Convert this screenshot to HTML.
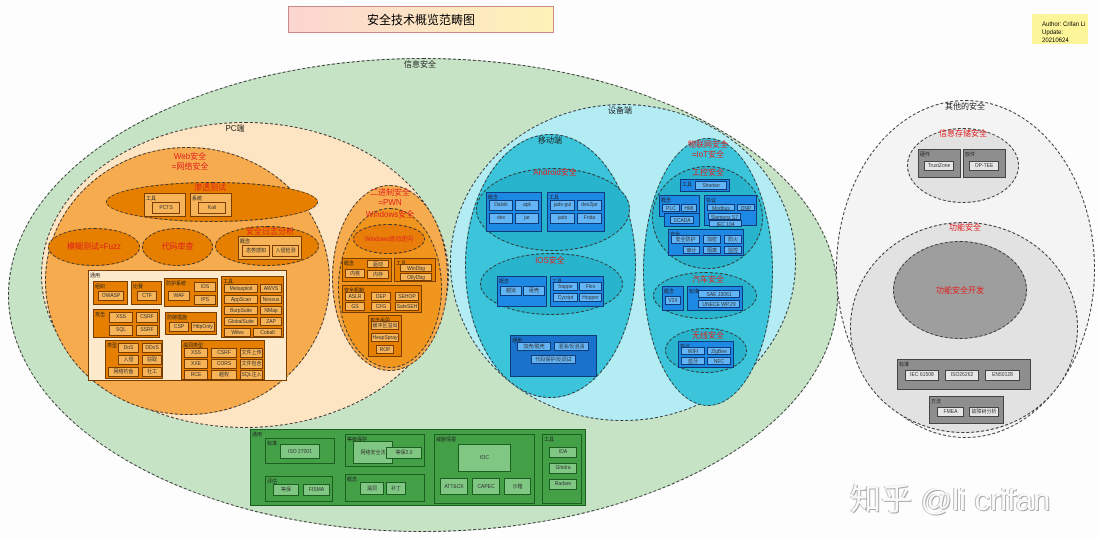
<!DOCTYPE html>
<html><head><meta charset="utf-8"><style>
body{margin:0;width:1100px;height:539px;background:#fdfdfd;position:relative;overflow:hidden;font-family:"Liberation Sans","Noto Sans CJK SC",sans-serif}
div{position:absolute;box-sizing:border-box}
.e{border-radius:50%;border:1px dashed #333}
.l{font-size:8px;color:#222;text-align:center;white-space:nowrap}
.r{font-size:8px;color:#e02020;text-align:center;white-space:nowrap;line-height:10px}
.b{border:1px solid #7a3d00;font-size:5px;color:#222;padding:1px}
.c{border:1px solid #7a3d00;font-size:5px;color:#333;text-align:center;line-height:8px;white-space:nowrap;overflow:hidden}
.o1{background:#e67e00}.o2{background:#f7b357}
.bl1{background:#1e88e5;border-color:#0d3c78}.bl2{background:#64b5f6;border-color:#0d3c78}
.g1{background:#43a047;border-color:#1b5e20}.g2{background:#81c784;border-color:#1b5e20}
.y1{background:#8e8e8e;border-color:#444}.y2{background:#e6e6e6;border-color:#444}
</style></head><body>
<div style="left:288px;top:6px;width:266px;height:27px;background:linear-gradient(90deg,#fcd5d0,#fdf3b8);border:1px solid #c88;font-size:12px;text-align:center;line-height:26px">安全技术概览范畴图</div>
<div style="left:1032px;top:14px;width:56px;height:30px;background:#fdf59a;font-size:6px;line-height:8px;padding:7px 0 0 10px">Author: Crifan Li<br>Update: 20210624</div>

<div class="e" style="left:8px;top:58px;width:830px;height:474px;background:#c7e3c6"></div>
<div class="l" style="left:390px;top:59px;width:60px">信息安全</div>

<!-- PC -->
<div class="e" style="left:41px;top:122px;width:408px;height:306px;background:#fde4c2"></div>
<div class="l" style="left:215px;top:123px;width:40px">PC端</div>
<div class="e" style="left:45px;top:147px;width:285px;height:268px;background:#f6ab4e"></div>
<div class="r" style="left:150px;top:152px;width:80px">Web安全<br>=网络安全</div>
<div class="e o1" style="left:106px;top:182px;width:212px;height:40px"></div>
<div class="r" style="left:180px;top:183px;width:60px">渗透测试</div>
<div class="b o2" style="left:144px;top:193px;width:42px;height:24px">工具<div class="c o2" style="left:7px;top:8px;width:28px;height:12px;line-height:10px">PCTS</div></div>
<div class="b o2" style="left:190px;top:193px;width:42px;height:24px">系统<div class="c o2" style="left:7px;top:8px;width:28px;height:12px;line-height:10px">Kali</div></div>
<div class="e o1" style="left:48px;top:228px;width:92px;height:38px"></div>
<div class="r" style="left:50px;top:242px;width:88px">模糊测试=Fuzz</div>
<div class="e o1" style="left:142px;top:228px;width:71px;height:38px"></div>
<div class="r" style="left:142px;top:242px;width:71px">代码审查</div>
<div class="e o1" style="left:215px;top:226px;width:104px;height:40px"></div>
<div class="r" style="left:230px;top:227px;width:80px">安全日志分析</div>
<div class="b o2" style="left:238px;top:236px;width:64px;height:24px">概念<div class="c o2" style="left:3px;top:8px;width:28px;height:12px;line-height:10px">态势感知</div><div class="c o2" style="left:33px;top:8px;width:27px;height:12px;line-height:10px">入侵检测</div></div>
<div class="b" style="left:88px;top:270px;width:199px;height:111px;background:#fde9cb">通用</div>
<div class="b o1" style="left:93px;top:281px;width:35px;height:24px">组织<div class="c o2" style="left:4px;top:9px;width:26px;height:10px">OWASP</div></div>
<div class="b o1" style="left:131px;top:281px;width:31px;height:24px">比赛<div class="c o2" style="left:5px;top:9px;width:20px;height:10px">CTF</div></div>
<div class="b o1" style="left:164px;top:278px;width:54px;height:29px">防护系统<div class="c o2" style="left:3px;top:12px;width:22px;height:10px">WAF</div><div class="c o2" style="left:29px;top:3px;width:22px;height:10px">IDS</div><div class="c o2" style="left:29px;top:16px;width:22px;height:10px">IPS</div></div>
<div class="b o1" style="left:221px;top:276px;width:63px;height:62px">工具
<div class="c o2" style="left:2px;top:7px;width:34px;height:9px">Metasploit</div><div class="c o2" style="left:38px;top:7px;width:22px;height:9px">AWVS</div>
<div class="c o2" style="left:2px;top:18px;width:34px;height:9px">AppScan</div><div class="c o2" style="left:38px;top:18px;width:22px;height:9px">Nessus</div>
<div class="c o2" style="left:2px;top:29px;width:34px;height:9px">BurpSuite</div><div class="c o2" style="left:38px;top:29px;width:22px;height:9px">NMap</div>
<div class="c o2" style="left:2px;top:40px;width:34px;height:9px">GlobalSuite</div><div class="c o2" style="left:38px;top:40px;width:22px;height:9px">ZAP</div>
<div class="c o2" style="left:2px;top:51px;width:27px;height:9px">Wiles</div><div class="c o2" style="left:31px;top:51px;width:29px;height:9px">Cobalt</div></div>
<div class="b o1" style="left:93px;top:309px;width:67px;height:29px">攻击<div class="c o2" style="left:15px;top:2px;width:24px;height:11px">XSS</div><div class="c o2" style="left:42px;top:2px;width:22px;height:11px">CSRF</div><div class="c o2" style="left:15px;top:15px;width:24px;height:11px">SQL</div><div class="c o2" style="left:42px;top:15px;width:22px;height:11px">SSRF</div></div>
<div class="b o1" style="left:165px;top:312px;width:52px;height:23px">防御措施<div class="c o2" style="left:3px;top:9px;width:20px;height:10px">CSP</div><div class="c o2" style="left:25px;top:9px;width:24px;height:10px">HttpOnly</div></div>
<div class="b o1" style="left:105px;top:340px;width:58px;height:39px">类型<div class="c o2" style="left:12px;top:2px;width:21px;height:10px">DoS</div><div class="c o2" style="left:36px;top:2px;width:20px;height:10px">DDoS</div><div class="c o2" style="left:12px;top:14px;width:21px;height:10px">入侵</div><div class="c o2" style="left:36px;top:14px;width:20px;height:10px">窃取</div><div class="c o2" style="left:2px;top:26px;width:31px;height:10px">网络钓鱼</div><div class="c o2" style="left:36px;top:26px;width:20px;height:10px">社工</div></div>
<div class="b o1" style="left:181px;top:340px;width:84px;height:40px">漏洞类型<div class="c o2" style="left:2px;top:7px;width:24px;height:10px">XSS</div><div class="c o2" style="left:29px;top:7px;width:26px;height:10px">CSRF</div><div class="c o2" style="left:58px;top:7px;width:23px;height:10px">文件上传</div><div class="c o2" style="left:2px;top:18px;width:24px;height:10px">XXE</div><div class="c o2" style="left:29px;top:18px;width:26px;height:10px">CORS</div><div class="c o2" style="left:58px;top:18px;width:23px;height:10px">文件包含</div><div class="c o2" style="left:2px;top:29px;width:24px;height:10px">RCE</div><div class="c o2" style="left:29px;top:29px;width:26px;height:10px">越权</div><div class="c o2" style="left:58px;top:29px;width:23px;height:10px">SQL注入</div></div>

<div class="e" style="left:332px;top:185px;width:116px;height:186px;background:#f6ab4e"></div>
<div class="r" style="left:350px;top:188px;width:80px">二进制安全<br>=PWN</div>
<div class="e o1" style="left:338px;top:208px;width:104px;height:160px;background:#f0961f"></div>
<div class="r" style="left:350px;top:210px;width:80px">Windows安全</div>
<div class="e o1" style="left:353px;top:224px;width:72px;height:30px;background:#e87d0a"></div>
<div style="left:353px;top:234px;width:72px;font-size:6px;color:#e02020;text-align:center">Windows驱动逆向</div>
<div class="b o1" style="left:342px;top:258px;width:50px;height:24px">概念<div class="c o2" style="left:24px;top:1px;width:22px;height:8px">驱动</div><div class="c o2" style="left:2px;top:10px;width:20px;height:9px">内核</div><div class="c o2" style="left:24px;top:11px;width:22px;height:9px">内存</div></div>
<div class="b o1" style="left:394px;top:258px;width:42px;height:24px">工具<div class="c o2" style="left:5px;top:5px;width:32px;height:8px">WinDbg</div><div class="c o2" style="left:5px;top:14px;width:32px;height:8px">OllyDbg</div></div>
<div class="b o1" style="left:342px;top:285px;width:80px;height:28px">安全机制<div class="c o2" style="left:2px;top:6px;width:20px;height:9px">ASLR</div><div class="c o2" style="left:28px;top:6px;width:20px;height:9px">DEP</div><div class="c o2" style="left:52px;top:6px;width:24px;height:9px">SEHOP</div><div class="c o2" style="left:2px;top:16px;width:20px;height:9px">GS</div><div class="c o2" style="left:28px;top:16px;width:20px;height:9px">CFG</div><div class="c o2" style="left:52px;top:16px;width:24px;height:9px">SafeSEH</div></div>
<div class="b o1" style="left:368px;top:315px;width:34px;height:42px">攻击手段<div class="c o2" style="left:2px;top:5px;width:28px;height:9px">缓冲区溢出</div><div class="c o2" style="left:2px;top:17px;width:28px;height:9px">HeapSpray</div><div class="c o2" style="left:7px;top:29px;width:18px;height:9px">ROP</div></div>

<!-- Device -->
<div class="e" style="left:450px;top:104px;width:346px;height:317px;background:#b3ecf3"></div>
<div class="l" style="left:595px;top:105px;width:50px">设备端</div>
<div class="e" style="left:465px;top:134px;width:171px;height:264px;background:#3cc5da"></div>
<div class="l" style="left:525px;top:135px;width:50px">移动端</div>
<div class="e" style="left:476px;top:168px;width:154px;height:83px;background:#27b4cc"></div>
<div class="r" style="left:515px;top:168px;width:80px">Android安全</div>
<div class="b bl1" style="left:486px;top:192px;width:56px;height:40px">概念<div class="c bl2" style="left:2px;top:7px;width:24px;height:11px">Dalvik</div><div class="c bl2" style="left:28px;top:7px;width:24px;height:11px">apk</div><div class="c bl2" style="left:2px;top:20px;width:24px;height:11px">dex</div><div class="c bl2" style="left:28px;top:20px;width:24px;height:11px">jar</div></div>
<div class="b bl1" style="left:547px;top:192px;width:58px;height:40px">工具<div class="c bl2" style="left:2px;top:7px;width:25px;height:11px">jadx-gui</div><div class="c bl2" style="left:29px;top:7px;width:25px;height:11px">dex2jar</div><div class="c bl2" style="left:2px;top:20px;width:25px;height:11px">jadx</div><div class="c bl2" style="left:29px;top:20px;width:25px;height:11px">Frida</div></div>
<div class="e" style="left:480px;top:253px;width:143px;height:62px;background:#27b4cc"></div>
<div class="r" style="left:515px;top:256px;width:70px">iOS安全</div>
<div class="b bl1" style="left:497px;top:276px;width:50px;height:31px">概念<div class="c bl2" style="left:2px;top:9px;width:22px;height:10px">越狱</div><div class="c bl2" style="left:25px;top:9px;width:22px;height:10px">砸壳</div></div>
<div class="b bl1" style="left:550px;top:276px;width:54px;height:31px">工具<div class="c bl2" style="left:2px;top:5px;width:25px;height:9px">frappe</div><div class="c bl2" style="left:28px;top:5px;width:23px;height:9px">Flex</div><div class="c bl2" style="left:2px;top:16px;width:25px;height:9px">Cycript</div><div class="c bl2" style="left:28px;top:16px;width:23px;height:9px">Hopper</div></div>
<div class="b" style="left:510px;top:335px;width:87px;height:42px;background:#1a72cc;border-color:#0d3c78">通用<div class="c bl2" style="left:6px;top:6px;width:34px;height:9px">加壳/脱壳</div><div class="c bl2" style="left:43px;top:6px;width:35px;height:9px">混淆/反混淆</div><div class="c bl2" style="left:20px;top:19px;width:45px;height:9px">代码保护/反调试</div></div>

<div class="e" style="left:643px;top:138px;width:130px;height:268px;background:#3cc5da"></div>
<div class="r" style="left:670px;top:140px;width:76px">物联网安全<br>=IoT安全</div>
<div class="e" style="left:652px;top:166px;width:111px;height:103px;background:#27b4cc"></div>
<div class="r" style="left:680px;top:168px;width:56px">工控安全</div>
<div class="b bl1" style="left:680px;top:179px;width:50px;height:13px">工具<div class="c bl2" style="left:14px;top:1px;width:32px;height:9px">Shodan</div></div>
<div class="b bl1" style="left:659px;top:195px;width:41px;height:22px">概念<div class="c bl2" style="left:2px;top:8px;width:18px;height:8px">PLC</div><div class="c bl2" style="left:21px;top:8px;width:16px;height:8px">HMI</div></div>
<div class="b bl1" style="left:704px;top:195px;width:53px;height:31px">协议<div class="c bl2" style="left:2px;top:8px;width:28px;height:7px">Modbus</div><div class="c bl2" style="left:32px;top:8px;width:18px;height:7px">DNP</div><div class="c bl2" style="left:3px;top:17px;width:33px;height:7px">Siemens S7</div></div>
<div class="b bl1" style="left:664px;top:213px;width:36px;height:14px"><div class="c bl2" style="left:5px;top:2px;width:24px;height:8px">SCADA</div></div>
<div class="c bl2" style="left:709px;top:220px;width:33px;height:7px">IEC 104</div>
<div class="b bl1" style="left:668px;top:229px;width:76px;height:27px">安全<div class="c bl2" style="left:2px;top:5px;width:29px;height:9px">安全防护</div><div class="c bl2" style="left:34px;top:5px;width:18px;height:9px">加密</div><div class="c bl2" style="left:55px;top:5px;width:18px;height:9px">防火</div><div class="c bl2" style="left:14px;top:16px;width:17px;height:8px">审计</div><div class="c bl2" style="left:34px;top:16px;width:18px;height:8px">隔离</div><div class="c bl2" style="left:55px;top:16px;width:18px;height:8px">监控</div></div>
<div class="e" style="left:653px;top:272px;width:104px;height:47px;background:#27b4cc"></div>
<div class="r" style="left:680px;top:275px;width:56px">汽车安全</div>
<div class="b bl1" style="left:662px;top:286px;width:22px;height:25px">概念<div class="c bl2" style="left:2px;top:9px;width:16px;height:9px">V2X</div></div>
<div class="b bl1" style="left:687px;top:286px;width:56px;height:25px">标准<div class="c bl2" style="left:10px;top:3px;width:42px;height:8px">SAE J3061</div><div class="c bl2" style="left:10px;top:13px;width:42px;height:8px">UNECE WP.29</div></div>
<div class="e" style="left:665px;top:328px;width:82px;height:45px;background:#27b4cc"></div>
<div class="r" style="left:680px;top:331px;width:56px">无线安全</div>
<div class="b bl1" style="left:678px;top:341px;width:56px;height:27px">协议<div class="c bl2" style="left:2px;top:5px;width:24px;height:8px">WIFI</div><div class="c bl2" style="left:28px;top:5px;width:24px;height:8px">ZigBee</div><div class="c bl2" style="left:2px;top:15px;width:24px;height:8px">蓝牙</div><div class="c bl2" style="left:28px;top:15px;width:24px;height:8px">NFC</div></div>

<!-- bottom common -->
<div class="b g1" style="left:250px;top:429px;width:336px;height:77px">通用</div>
<div class="b g1" style="left:265px;top:438px;width:70px;height:26px">标准<div class="c g2" style="left:14px;top:5px;width:40px;height:15px;line-height:14px">ISO 27001</div></div>
<div class="b g1" style="left:345px;top:434px;width:80px;height:33px">等级保护<div class="c g2" style="left:7px;top:6px;width:40px;height:23px;line-height:22px">网络安全法</div><div class="c g2" style="left:40px;top:12px;width:36px;height:12px;line-height:11px">等保2.0</div></div>
<div class="b g1" style="left:265px;top:476px;width:68px;height:26px">评估<div class="c g2" style="left:7px;top:7px;width:26px;height:12px;line-height:11px">等保</div><div class="c g2" style="left:37px;top:7px;width:27px;height:12px;line-height:11px">FISMA</div></div>
<div class="b g1" style="left:345px;top:474px;width:80px;height:28px">概念<div class="c g2" style="left:14px;top:7px;width:24px;height:13px;line-height:12px">漏洞</div><div class="c g2" style="left:40px;top:7px;width:20px;height:13px;line-height:12px">补丁</div></div>
<div class="b g1" style="left:434px;top:434px;width:101px;height:70px">威胁情报<div class="c g2" style="left:23px;top:9px;width:53px;height:28px;line-height:26px">IOC</div><div class="c g2" style="left:5px;top:43px;width:28px;height:17px;line-height:16px">ATT&amp;CK</div><div class="c g2" style="left:37px;top:43px;width:28px;height:17px;line-height:16px">CAPEC</div><div class="c g2" style="left:69px;top:43px;width:27px;height:17px;line-height:16px">沙箱</div></div>
<div class="b g1" style="left:542px;top:434px;width:40px;height:70px">工具<div class="c g2" style="left:6px;top:12px;width:28px;height:11px">IDA</div><div class="c g2" style="left:6px;top:28px;width:28px;height:11px">Ghidra</div><div class="c g2" style="left:6px;top:44px;width:28px;height:11px">Radare</div></div>

<!-- other -->
<div class="e" style="left:836px;top:100px;width:259px;height:338px;background:#f4f4f4"></div>
<div class="l" style="left:935px;top:101px;width:60px">其他的安全</div>
<div class="e" style="left:907px;top:128px;width:112px;height:75px;background:#e2e2e2"></div>
<div class="r" style="left:925px;top:129px;width:76px">信息存储安全</div>
<div class="b y1" style="left:918px;top:149px;width:43px;height:29px">硬件<div class="c y2" style="left:5px;top:11px;width:30px;height:10px">TrustZone</div></div>
<div class="b y1" style="left:963px;top:149px;width:43px;height:29px">软件<div class="c y2" style="left:5px;top:11px;width:30px;height:10px">OP-TEE</div></div>
<div class="e" style="left:850px;top:222px;width:228px;height:211px;background:#e2e2e2"></div>
<div class="r" style="left:935px;top:223px;width:60px">功能安全</div>
<div class="e" style="left:893px;top:241px;width:134px;height:98px;background:#9e9e9e"></div>
<div class="r" style="left:920px;top:286px;width:80px">功能安全开发</div>
<div class="b y1" style="left:897px;top:359px;width:134px;height:31px">标准<div class="c y2" style="left:7px;top:10px;width:34px;height:11px">IEC 61508</div><div class="c y2" style="left:47px;top:10px;width:34px;height:11px">ISO26262</div><div class="c y2" style="left:87px;top:10px;width:35px;height:11px">EN50128</div></div>
<div class="b y1" style="left:929px;top:396px;width:75px;height:28px">方法<div class="c y2" style="left:7px;top:10px;width:27px;height:10px">FMEA</div><div class="c y2" style="left:39px;top:10px;width:30px;height:10px">故障树分析</div></div>

<div style="left:850px;top:474px;font-size:31px;color:#fafafa;text-shadow:1px 1px 0 #aaa,-1px 0 0 #bbb;white-space:nowrap">知乎 @li crifan</div>
</body></html>
